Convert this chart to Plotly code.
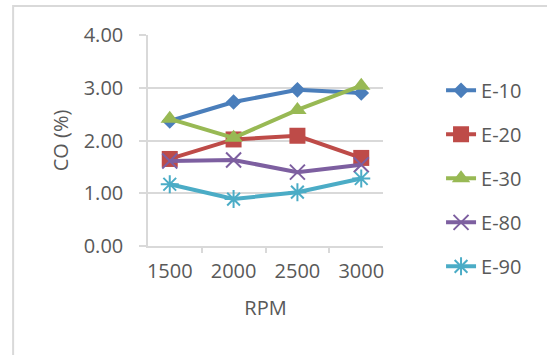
import plotly.graph_objects as go

rpm = ["1500", "2000", "2500", "3000"]
e10 = [2.37, 2.73, 2.96, 2.90]
e20 = [1.65, 2.02, 2.09, 1.67]
e30 = [2.41, 2.05, 2.58, 3.04]
e80 = [1.61, 1.63, 1.40, 1.54]
e90 = [1.17, 0.89, 1.02, 1.28]

series = [
    ("E-10", e10, "#4A7EBB", "diamond", 12),
    ("E-20", e20, "#BE4B48", "square", 16),
    ("E-30", e30, "#98B954", "triangle-up", 16),
    ("E-80", e80, "#7D5FA0", "x-thin-open", 15),
    ("E-90", e90, "#4BACC6", "asterisk-open", 15),
]

font_family = "Open Sans, Liberation Sans, sans-serif"
text_color = "#595959"
grid_color = "#d9d9d9"

fig = go.Figure()
for name, vals, color, symbol, size in series:
    marker = dict(symbol=symbol, size=size, color=color)
    if symbol.endswith("open"):
        marker["line"] = dict(color=color, width=2)
    fig.add_trace(go.Scatter(
        x=rpm, y=vals, name=name, mode="lines+markers",
        line=dict(color=color, width=4),
        marker=marker, legendgroup=name,
    ))

fig.update_layout(
    width=547, height=355,
    margin=dict(l=148, r=164, t=35, b=109),
    paper_bgcolor="white", plot_bgcolor="white",
    font=dict(family=font_family, color=text_color, size=20),
    showlegend=True,
    legend=dict(
        x=1.247, y=0.83, xanchor="left", yanchor="top",
        font=dict(size=20, color=text_color),
        tracegroupgap=15, maxheight=400,
        bgcolor="rgba(0,0,0,0)",
    ),
    xaxis=dict(
        type="category", tickson="boundaries",
        ticks="outside", ticklen=5, tickcolor=grid_color, tickwidth=1.5,
        showline=True, linecolor=grid_color, linewidth=1.5,
        showgrid=False,
        tickfont=dict(size=20, color=text_color),
        ticklabelstandoff=6,
        title=dict(text="RPM", font=dict(size=20, color=text_color), standoff=18),
    ),
    yaxis=dict(
        range=[0, 4], dtick=1, tickformat=".2f",
        showgrid=True, gridcolor=grid_color, gridwidth=1.5,
        ticks="outside", ticklen=7, tickcolor=grid_color, tickwidth=1.5,
        showline=True, linecolor=grid_color, linewidth=1.5,
        zeroline=False,
        tickfont=dict(size=20, color=text_color),
        ticklabelstandoff=12,
        title=dict(text="CO (%)", font=dict(size=20, color=text_color), standoff=10),
    ),
    shapes=[dict(
        type="rect", xref="paper", yref="paper",
        x0=-0.574, x1=2.0, y0=-0.8, y1=1.137,
        line=dict(color=grid_color, width=2), fillcolor="rgba(0,0,0,0)",
        layer="below",
    )],
)

fig.write_html("out.html")
